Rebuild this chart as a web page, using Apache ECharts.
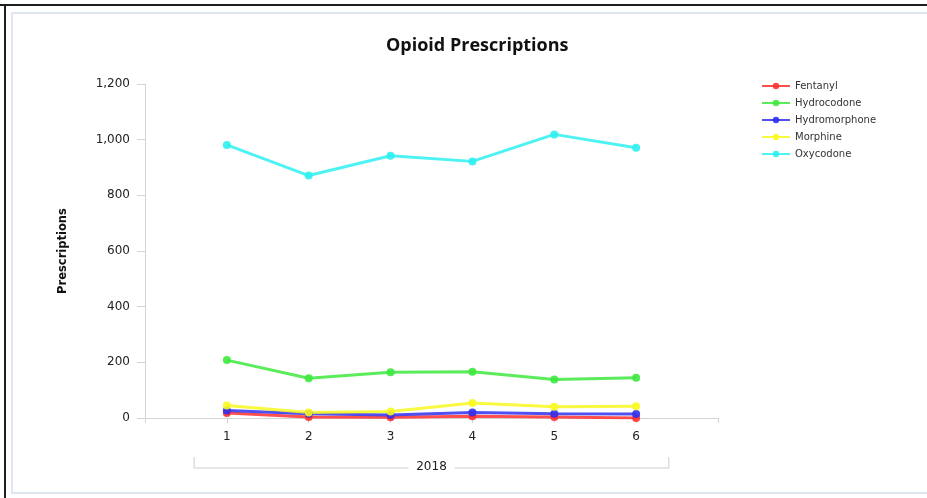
<!DOCTYPE html>
<html>
<head>
<meta charset="utf-8">
<script src="https://cdn.jsdelivr.net/npm/echarts@6/dist/echarts.min.js"></script>
<style>
  html, body { margin: 0; padding: 0; background: #fff; }
  #chart { width: 927px; height: 498px; }
</style>
</head>
<body>
<div id="chart"></div>
<script>
// Monthly prescription counts, 2018
const months = [1, 2, 3, 4, 5, 6];
const yearLabel = '2018';
const fentanyl = [18, 4, 3, 6, 4, 0];
const hydrocodone = [208, 143, 164, 166, 138, 145];
const hydromorphone = [27, 15, 11, 20, 15, 14];
const morphine = [45, 20, 23, 54, 40, 42];
const oxycodone = [981, 871, 942, 922, 1019, 971];
const yTicks = [0, 200, 400, 600, 800, 1000, 1200];

const seriesDefs = [
  { name: 'Fentanyl', data: fentanyl, color: '#ff3030' },
  { name: 'Hydrocodone', data: hydrocodone, color: '#3ee83e' },
  { name: 'Hydromorphone', data: hydromorphone, color: '#3030f0' },
  { name: 'Morphine', data: morphine, color: '#f8f820' },
  { name: 'Oxycodone', data: oxycodone, color: '#30f0f0' }
];

const chart = echarts.init(document.getElementById('chart'), null, { renderer: 'canvas' });
const axisGray = '#d4d4d4';
const labelFont = '"DejaVu Sans", Verdana, sans-serif';

chart.setOption({
  animation: false,
  backgroundColor: '#ffffff',
  title: {
    text: 'Opioid Prescriptions',
    left: 381,
    top: 32,
    textStyle: { fontFamily: '"Open Sans", sans-serif', fontWeight: 'bold', fontSize: 18, color: '#111' }
  },
  legend: {
    orient: 'vertical',
    left: 756,
    top: 76,
    itemWidth: 28,
    itemHeight: 8,
    itemGap: 7,
    textStyle: { fontFamily: labelFont, fontSize: 10, color: '#333' },
    data: seriesDefs.map(s => s.name)
  },
  grid: { left: 145, right: 209, top: 84, bottom: 80 },
  xAxis: {
    type: 'value',
    min: 0,
    max: months.length + 1,
    interval: 1,
    splitLine: { show: false },
    axisLine: { show: true, lineStyle: { color: axisGray, width: 1 } },
    axisTick: { show: true, length: 5, lineStyle: { color: axisGray } },
    axisLabel: {
      margin: 13,
      fontFamily: labelFont,
      fontSize: 12,
      color: '#222',
      formatter: v => (months.indexOf(v) >= 0 ? String(v) : '')
    }
  },
  yAxis: {
    type: 'value',
    min: yTicks[0],
    max: yTicks[yTicks.length - 1],
    interval: 200,
    name: 'Prescriptions',
    nameLocation: 'middle',
    nameGap: 76,
    nameTextStyle: { fontFamily: labelFont, fontWeight: 'bold', fontSize: 11.5, color: '#111' },
    splitLine: { show: false },
    axisLine: { show: true, lineStyle: { color: axisGray, width: 1 } },
    axisTick: { show: true, length: 8, lineStyle: { color: axisGray } },
    axisLabel: {
      margin: 15,
      fontFamily: labelFont,
      fontSize: 12,
      color: '#222',
      formatter: v => v.toLocaleString('en-US')
    }
  },
  series: seriesDefs.map(s => ({
    name: s.name,
    type: 'line',
    data: s.data.map((v, i) => [months[i], v]),
    symbol: 'circle',
    symbolSize: 8,
    showSymbol: true,
    color: s.color,
    lineStyle: { width: 3, color: s.color, opacity: 0.85 },
    itemStyle: { color: s.color, opacity: 0.9 }
  }))
});

// Frame and the year bracket beneath the month labels
const left = chart.convertToPixel({ xAxisIndex: 0 }, 0.6);
const right = chart.convertToPixel({ xAxisIndex: 0 }, months.length + 0.4);
const mid = (left + right) / 2;
const by = 468, bTop = 457;
chart.setOption({
  graphic: [
    { type: 'rect', silent: true, z: -1, shape: { x: 12, y: 13, width: 940, height: 480 },
      style: { fill: 'none', stroke: '#dfe6f0', lineWidth: 2 } },
    { type: 'line', silent: true, shape: { x1: 0, y1: 5, x2: 927, y2: 5 },
      style: { stroke: '#1e1e1e', lineWidth: 2 } },
    { type: 'line', silent: true, shape: { x1: 5, y1: 4, x2: 5, y2: 498 },
      style: { stroke: '#1e1e1e', lineWidth: 2 } },
    { type: 'polyline', silent: true, shape: { points: [[left, bTop], [left, by], [mid - 23, by]] },
      style: { fill: 'none', stroke: '#cfcfcf', lineWidth: 1 } },
    { type: 'polyline', silent: true, shape: { points: [[mid + 23, by], [right, by], [right, bTop]] },
      style: { fill: 'none', stroke: '#cfcfcf', lineWidth: 1 } },
    { type: 'text', silent: true, x: mid, y: by - 1,
      style: { text: yearLabel, fill: '#222', font: '12px ' + labelFont, align: 'center', verticalAlign: 'middle' } }
  ]
});
</script>
</body>
</html>
